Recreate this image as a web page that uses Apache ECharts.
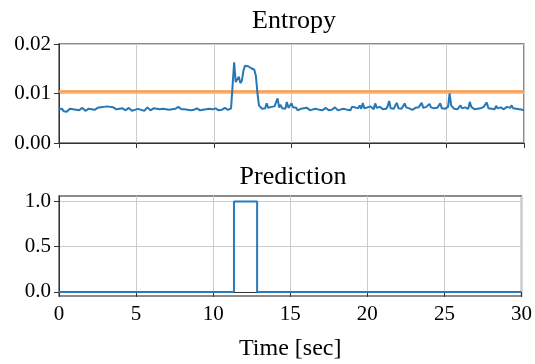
<!DOCTYPE html>
<html>
<head>
<meta charset="utf-8">
<script src="https://cdn.jsdelivr.net/npm/echarts@6/dist/echarts.min.js"></script>
<style>
html, body { margin: 0; padding: 0; background: #fff; }
#chart { width: 535px; height: 364px; }
</style>
</head>
<body>
<div id="chart"></div>
<script>
// entropy, sampled every 0.1 sec, in units of 0.001
var entropy = [
    6.8,6.6,6.9,6.4,6.7,6.3,6.5,6.9,6.6,6.8,
    7.0,6.7,6.9,6.6,6.8,7.1,6.7,6.5,6.8,6.9,
    6.6,6.8,7.0,6.7,6.9,7.1,6.8,7.2,7.0,7.3,
    7.1,7.4,7.6,7.3,7.5,7.2,7.0,6.8,7.1,6.9,
    6.7,7.0,6.8,6.6,6.9,7.1,6.8,6.5,6.9,6.7,
    6.6,6.9,7.0,6.7,6.9,6.5,6.8,7.2,6.9,6.6,
    6.8,7.0,6.6,6.9,7.2,6.8,7.1,6.9,6.6,6.8,
    6.5,6.7,6.4,6.8,6.6,6.9,7.1,7.3,7.0,6.8,
    6.6,6.8,6.5,6.7,6.9,6.6,6.8,6.7,6.9,7.0,
    6.8,6.6,6.9,6.7,7.0,6.8,6.6,6.9,7.1,6.8,
    6.7,7.0,6.8,6.6,6.9,6.7,7.0,7.1,6.8,6.7,
    6.9,7.0,6.8,16.3,12.3,12.0,13.4,12.1,12.6,14.6,
    15.6,16.0,15.5,15.3,15.1,15.3,14.8,13.6,10.2,7.6,
    7.2,6.9,7.3,7.0,8.0,7.1,6.8,7.3,7.0,7.4,
    7.1,9.0,7.2,7.7,7.0,7.3,6.9,8.3,7.1,7.5,
    8.0,7.2,6.8,7.1,6.6,6.4,6.9,6.7,7.0,6.8,
    7.1,6.9,6.6,7.0,6.8,6.5,6.9,7.2,6.7,6.9,
    6.6,6.9,7.1,6.8,6.6,7.0,6.7,6.9,7.2,6.8,
    6.6,7.0,6.8,6.5,6.9,7.1,6.7,6.9,6.6,7.3,
    6.9,7.2,6.8,7.0,7.6,6.9,8.1,7.0,6.7,7.2,
    6.8,7.4,7.0,6.8,8.0,7.1,6.9,7.3,7.0,6.8,
    7.2,6.9,7.4,8.5,7.0,7.3,6.9,7.6,8.1,7.0,
    7.3,6.9,7.1,8.0,7.2,6.8,7.0,7.4,6.7,6.9,
    7.1,6.8,7.2,7.0,8.1,7.1,6.8,7.3,7.0,7.9,
    7.2,6.9,7.0,7.3,7.1,6.8,8.0,7.0,7.2,6.9,
    7.1,7.3,10.0,7.6,7.2,6.9,7.1,6.8,7.0,7.6,
    7.0,6.8,7.2,7.1,6.9,8.3,7.3,7.0,6.8,7.1,
    6.9,7.2,7.0,6.8,7.3,7.1,8.2,7.0,7.2,6.9,
    7.1,6.8,7.5,7.0,6.9,7.2,7.1,6.8,7.0,7.3,
    6.9,7.1,7.6,7.0,7.2,6.9,7.1,6.8,6.9,6.7,
    6.6
];
var sampleStep = 0.1;
var threshold = 0.0104;

var predTimes = [0, 11.35, 12.85, 30];
var predValues = [0, 1, 0, 0];

var xTicks = [0, 5, 10, 15, 20, 25, 30];
var predTicks = [0, 0.5, 1];

var entropyData = entropy.map(function (v, i) {
    return [Math.round(i * sampleStep * 10) / 10, v / 1000];
});
var thresholdData = [[0, threshold], [30, threshold]];
var predData = predTimes.map(function (t, i) {
    return [t, predValues[i]];
});

var font = "Liberation Serif";
var gridColor = "#cccccc";
var frameColor = "#666";

var chart = echarts.init(document.getElementById("chart"));

var option = {
    animation: false,
    backgroundColor: "#fff",
    title: [
        { text: "Entropy", left: 289, top: 3, textAlign: "center",
          textStyle: { fontFamily: font, fontSize: 26, fontWeight: "normal", color: "#000" } },
        { text: "Prediction", left: 288, top: 159, textAlign: "center",
          textStyle: { fontFamily: font, fontSize: 26, fontWeight: "normal", color: "#000" } }
    ],
    grid: [
        { left: 59, right: 11, top: 44, height: 99, show: true, borderColor: frameColor, borderWidth: 1.5 },
        { left: 59, right: 11, top: 196, height: 100, show: true, borderColor: frameColor, borderWidth: 1.5 }
    ],
    xAxis: [
        {
            gridIndex: 0, type: "value", min: 0, max: 30, interval: 5,
            axisLine: { lineStyle: { color: "#333", width: 1 } },
            axisTick: { show: true, length: 5, lineStyle: { color: "#333" } },
            axisLabel: { show: false },
            splitLine: { show: true, lineStyle: { color: gridColor } }
        },
        {
            gridIndex: 1, type: "value", min: 0, max: 30, interval: 5,
            axisLine: { lineStyle: { color: "#333", width: 1 } },
            axisTick: { show: true, length: 5, lineStyle: { color: "#333" } },
            axisLabel: { fontFamily: font, fontSize: 21, color: "#000", margin: 8,
                customValues: xTicks },
            splitLine: { show: true, lineStyle: { color: gridColor } },
            name: "Time [sec]", nameLocation: "middle", nameGap: 41,
            nameTextStyle: { fontFamily: font, fontSize: 24, color: "#000" }
        }
    ],
    yAxis: [
        {
            gridIndex: 0, type: "value", min: 0, max: 0.02, interval: 0.01,
            axisLine: { show: true, lineStyle: { color: "#333", width: 1 } },
            axisTick: { show: true, length: 5, lineStyle: { color: "#333" } },
            axisLabel: { fontFamily: font, fontSize: 21, color: "#000", margin: 8,
                formatter: function (v) { return v.toFixed(2); } },
            splitLine: { show: true, lineStyle: { color: gridColor } }
        },
        {
            gridIndex: 1, type: "value", min: -0.045, max: 1.06,
            axisLine: { show: true, lineStyle: { color: "#333", width: 1 } },
            axisTick: { show: true, length: 5, lineStyle: { color: "#333" }, customValues: predTicks },
            axisLabel: { fontFamily: font, fontSize: 21, color: "#000", margin: 8,
                customValues: predTicks,
                formatter: function (v) { return v.toFixed(1); } },
            splitLine: { show: true, lineStyle: { color: gridColor } }
        }
    ],
    series: [
        {
            name: "threshold", type: "line", xAxisIndex: 0, yAxisIndex: 0,
            data: thresholdData, showSymbol: false,
            lineStyle: { color: "#ff9a3c", width: 2.5 }
        },
        {
            name: "entropy", type: "line", xAxisIndex: 0, yAxisIndex: 0,
            data: entropyData, showSymbol: false,
            lineStyle: { color: "#2577b5", width: 2 }
        },
        {
            name: "prediction", type: "line", xAxisIndex: 1, yAxisIndex: 1,
            data: predData, step: "end", showSymbol: false,
            lineStyle: { color: "#2b7bba", width: 2 }
        }
    ]
};

chart.setOption(option);
</script>
</body>
</html>
